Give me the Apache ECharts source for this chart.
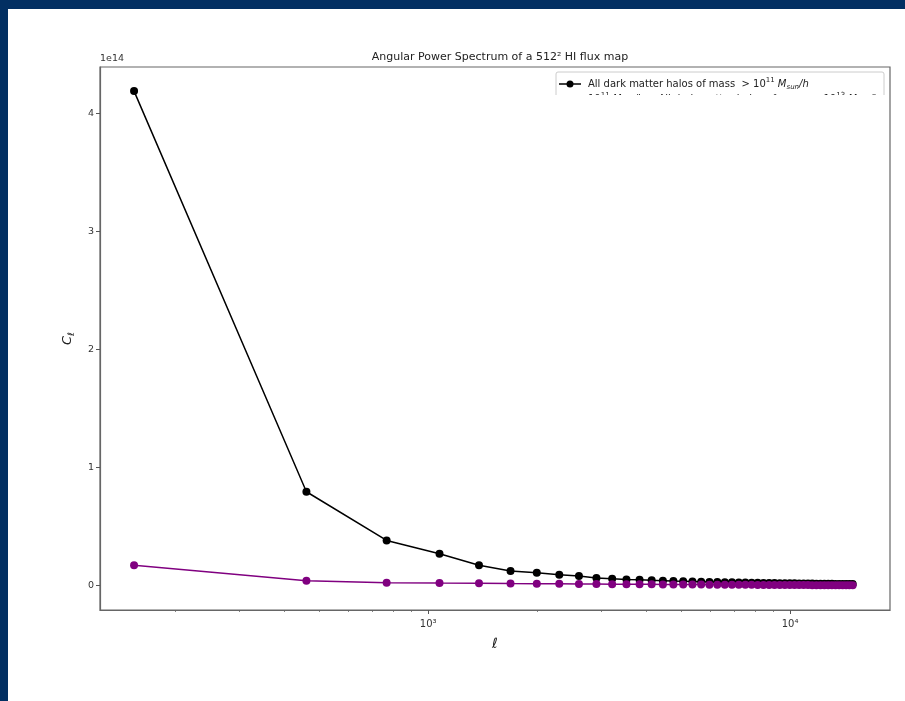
<!DOCTYPE html>
<html>
<head>
<meta charset="utf-8">
<script src="https://cdn.jsdelivr.net/npm/echarts@6/dist/echarts.min.js"></script>
<style>
  html, body { margin: 0; padding: 0; background: #ffffff; }
  #chart { width: 905px; height: 701px; }
</style>
</head>
<body>
<div id="chart"></div>
<script>
// Multipole bin centres (ell) of the 512^2 flux map
const ellValues = [
  154, 461, 768, 1075, 1382, 1689, 1996, 2303, 2610, 2917,
  3224, 3531, 3838, 4145, 4452, 4759, 5066, 5373, 5680, 5987,
  6294, 6601, 6908, 7215, 7522, 7829, 8136, 8443, 8750, 9057,
  9364, 9671, 9978, 10285, 10592, 10899, 11206, 11513, 11820, 12127,
  12434, 12741, 13048, 13355, 13662, 13969, 14276, 14583, 14890
];

// C_ell, all halos with M > 1e11 Msun/h
const clAllHalos = [
  4.186e14, 0.795e14, 0.383e14, 0.270e14, 0.172e14, 0.124e14, 0.110e14, 0.093e14, 0.082e14, 0.065e14,
  0.059e14, 0.053e14, 0.049e14, 0.045e14, 0.042e14, 0.039e14, 0.037e14, 0.035e14, 0.033e14, 0.031e14,
  0.030e14, 0.029e14, 0.028e14, 0.027e14, 0.026e14, 0.025e14, 0.024e14, 0.023e14, 0.023e14, 0.022e14,
  0.021e14, 0.021e14, 0.020e14, 0.020e14, 0.019e14, 0.019e14, 0.018e14, 0.018e14, 0.017e14, 0.017e14,
  0.016e14, 0.016e14, 0.016e14, 0.015e14, 0.015e14, 0.015e14, 0.014e14, 0.014e14, 0.014e14
];

// C_ell, halos with 1e11 < M < 1e13 Msun/h
const clMidHalos = [
  0.172e14, 0.042e14, 0.025e14, 0.022e14, 0.020e14, 0.018e14, 0.017e14, 0.016e14, 0.015e14, 0.014e14,
  0.013e14, 0.012e14, 0.011e14, 0.011e14, 0.010e14, 0.010e14, 0.009e14, 0.009e14, 0.009e14, 0.008e14,
  0.008e14, 0.008e14, 0.007e14, 0.007e14, 0.007e14, 0.007e14, 0.006e14, 0.006e14, 0.006e14, 0.006e14,
  0.006e14, 0.005e14, 0.005e14, 0.005e14, 0.005e14, 0.005e14, 0.005e14, 0.004e14, 0.004e14, 0.004e14,
  0.004e14, 0.004e14, 0.004e14, 0.004e14, 0.003e14, 0.003e14, 0.003e14, 0.003e14, 0.003e14
];

// Axis ranges and ticks
const ellMin = 124, ellMax = 18880;
const clMin = -0.206e14, clMax = 4.39e14;
const majorEllTicks = [1000, 10000];
const minorEllTicks = [200, 300, 400, 500, 600, 700, 800, 900, 2000, 3000, 4000, 5000, 6000, 7000, 8000, 9000];
const clTicks = [0, 1e14, 2e14, 3e14, 4e14];

const FONT = 'DejaVu Sans';
const SUP = { '3': '³', '4': '⁴' };

const chart = echarts.init(document.getElementById('chart'), null, { renderer: 'canvas' });

const toLog = v => Math.log10(v);

const legendRich = {
  t: { fontFamily: FONT, fontSize: 10, fill: '#222', lineHeight: 14 },
  p: { fontFamily: FONT, fontSize: 7, fill: '#222', lineHeight: 10, verticalAlign: 'top' },
  i: { fontFamily: FONT, fontSize: 10, fontStyle: 'italic', fill: '#222', lineHeight: 14 },
  b: { fontFamily: FONT, fontSize: 7, fontStyle: 'italic', fill: '#222', lineHeight: 10, verticalAlign: 'bottom' }
};

const option = {
  backgroundColor: '#ffffff',
  animation: false,
  title: {
    text: 'Angular Power Spectrum of a 512² HI flux map',
    left: 495, top: 47, textAlign: 'center',
    textStyle: { fontFamily: FONT, fontSize: 11, fontWeight: 'normal', color: '#222' }
  },
  grid: {
    left: 100, right: 15, top: 67, bottom: 91,
    show: true, borderColor: '#666', borderWidth: 1.2, backgroundColor: 'transparent'
  },
  xAxis: [
    {
      // data axis (log scale)
      type: 'log', logBase: 10, min: ellMin, max: ellMax, position: 'bottom',
      axisLine: { show: true, onZero: false, lineStyle: { color: '#666', width: 1.2 } },
      axisTick: { show: false }, axisLabel: { show: false },
      splitLine: { show: false }, minorTick: { show: false }, minorSplitLine: { show: false },
      name: 'ℓ', nameLocation: 'middle', nameGap: 27,
      nameTextStyle: { fontFamily: FONT, fontSize: 14, fontStyle: 'italic', color: '#222' }
    },
    {
      // decade ticks and labels
      type: 'value', min: toLog(ellMin), max: toLog(ellMax), position: 'bottom',
      axisLine: { show: false, onZero: false }, splitLine: { show: false },
      axisTick: { show: true, length: 4, customValues: majorEllTicks.map(toLog), lineStyle: { color: '#555', width: 1 } },
      axisLabel: {
        show: true, customValues: majorEllTicks.map(toLog), margin: 9,
        fontFamily: FONT, fontSize: 10, color: '#333',
        formatter: v => '10' + SUP[String(Math.round(v))]
      }
    },
    {
      // minor ticks between decades
      type: 'value', min: toLog(ellMin), max: toLog(ellMax), position: 'bottom',
      axisLine: { show: false, onZero: false }, splitLine: { show: false },
      axisTick: { show: true, length: 2, customValues: minorEllTicks.map(toLog), lineStyle: { color: '#666', width: 0.8 } },
      axisLabel: { show: false }
    }
  ],
  yAxis: [{
    type: 'value', min: clMin, max: clMax,
    axisLine: { show: true, onZero: false, lineStyle: { color: '#666', width: 1.2 } },
    axisTick: { show: true, length: 4, customValues: clTicks, lineStyle: { color: '#555' } },
    axisLabel: {
      customValues: clTicks, margin: 6,
      fontFamily: FONT, fontSize: 9.5, color: '#333',
      formatter: v => String(Math.round(v / 1e14))
    },
    splitLine: { show: false },
    name: '{c|C}{s|ℓ}', nameLocation: 'middle', nameGap: 24, nameRotate: 90,
    nameTextStyle: {
      rich: {
        c: { fontFamily: FONT, fontSize: 13, fontStyle: 'italic', color: '#222', lineHeight: 16 },
        s: { fontFamily: FONT, fontSize: 9, fontStyle: 'italic', color: '#222', verticalAlign: 'bottom', lineHeight: 12 }
      }
    }
  }],
  series: [
    {
      name: 'all', type: 'line', xAxisIndex: 0, yAxisIndex: 0,
      data: ellValues.map((l, i) => [l, clAllHalos[i]]),
      symbol: 'circle', symbolSize: 8, showSymbol: true,
      itemStyle: { color: '#000000' }, lineStyle: { color: '#000000', width: 1.5 },
      z: 2
    },
    {
      name: 'mid', type: 'line', xAxisIndex: 0, yAxisIndex: 0,
      data: ellValues.map((l, i) => [l, clMidHalos[i]]),
      symbol: 'circle', symbolSize: 8, showSymbol: true,
      itemStyle: { color: '#800080' }, lineStyle: { color: '#800080', width: 1.5 },
      z: 3
    }
  ],
  graphic: [
    // slide frame
    { type: 'rect', shape: { x: 0, y: 0, width: 905, height: 9 }, style: { fill: '#022f62' }, z: 100 },
    { type: 'rect', shape: { x: 0, y: 0, width: 8, height: 701 }, style: { fill: '#022f62' }, z: 100 },
    // y offset text
    { type: 'text', x: 100, y: 64, style: { text: '1e14', fontFamily: FONT, fontSize: 9.5, fill: '#333', verticalAlign: 'bottom' }, z: 50 },
    // legend
    {
      type: 'group', z: 60, children: [
        { type: 'rect', shape: { x: 556, y: 72, width: 328, height: 32, r: 2 },
          style: { fill: 'rgba(255,255,255,0.85)', stroke: '#ccc', lineWidth: 1 } },
        { type: 'line', shape: { x1: 559, y1: 84, x2: 581, y2: 84 }, style: { stroke: '#000', lineWidth: 1.5 } },
        { type: 'circle', shape: { cx: 570, cy: 84, r: 3.5 }, style: { fill: '#000' } },
        { type: 'text', x: 588, y: 84, style: {
            text: '{t|All dark matter halos of mass  > 10}{p|11}{i| M}{b|sun}{i|/h}',
            verticalAlign: 'middle', rich: legendRich } },
        { type: 'line', shape: { x1: 559, y1: 99, x2: 581, y2: 99 }, style: { stroke: '#800080', lineWidth: 1.5 } },
        { type: 'circle', shape: { cx: 570, cy: 99, r: 3.5 }, style: { fill: '#800080' } },
        { type: 'text', x: 588, y: 99, style: {
            text: '{t|10}{p|11}{i| M}{b|sun}{i|/h <}{t| All dark matter halos of mass  < 10}{p|13}{i| M}{b|sun}{i|/h}',
            verticalAlign: 'middle', rich: legendRich } },
        // panel edge that trims the legend's second row
        { type: 'rect', shape: { x: 552, y: 95, width: 336, height: 14 }, style: { fill: '#ffffff' } }
      ]
    }
  ]
};

chart.setOption(option);
</script>
</body>
</html>
